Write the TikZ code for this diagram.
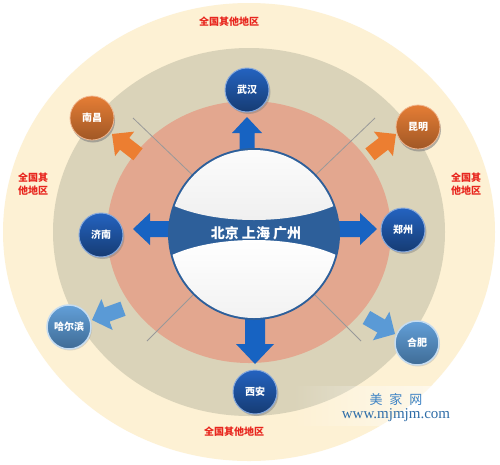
\documentclass[tikz,border=0pt]{standalone}
\usepackage{fontspec}
\setmainfont{Noto Sans CJK SC}
\newfontfamily\urlfont{Liberation Serif}
\usetikzlibrary{shadows,fadings}
\definecolor{ringY}{HTML}{FDF1D4}
\definecolor{ringT}{HTML}{DAD3B9}
\definecolor{ringP}{HTML}{E3A78F}
\definecolor{globeB}{HTML}{2D5F9A}
\definecolor{arrB}{HTML}{1763C2}
\definecolor{arrO}{HTML}{EC7E31}
\definecolor{arrL}{HTML}{5A9AD6}
\definecolor{cityB}{HTML}{2463C0}
\definecolor{cityO}{HTML}{E57D35}
\definecolor{lblR}{HTML}{E8261E}
\definecolor{wmB}{HTML}{3C82C4}
\definecolor{wmU}{HTML}{2E6DA8}
\tikzfading[name=wmfade, left color=transparent!100, right color=transparent!20]
\newcommand\blockarr[8]{% tip, angle, L, hw, hl, sw, color
  \fill[#7, shift={(#1)}, rotate=#2] (0,0) -- (-#5,#4/2) -- (-#5,#6/2) -- (-#3,#6/2)
    -- (-#3,-#6/2) -- (-#5,-#6/2) -- (-#5,-#4/2) -- cycle;}
\begin{document}
\begin{tikzpicture}[x=1pt,y=-1pt,
  city/.style={circle, minimum size=44pt, inner sep=0pt, text=white,
    font=\bfseries\fontsize{10}{10}\selectfont},
  cdark/.style={city, top color=cityB, bottom color=cityB!60!black, draw=cityB!55!white, line width=1pt,
    drop shadow={shadow xshift=1.5pt, shadow yshift=-2pt, opacity=0.45}},
  corange/.style={city, top color=cityO, bottom color=cityO!70!black,
    draw=cityO!55!white, line width=0.8pt,
    drop shadow={shadow xshift=1pt, shadow yshift=-2.5pt, opacity=0.6}},
  clight/.style={city, top color=arrL!95!white, bottom color=arrL!70!black, draw=arrL!35!white,
    line width=1.5pt, drop shadow={shadow xshift=1pt, shadow yshift=-1.5pt, opacity=0.25}},
  redlbl/.style={text=lblR, font=\bfseries\fontsize{10}{12.5}\selectfont, align=center, inner sep=0pt},
  gline/.style={draw=gray!80, line width=0.8pt}
]
\useasboundingbox (0,0) rectangle (500,464);
\fill[white] (0,0) rectangle (500,464);
\coordinate (C) at (249,232);
\fill[ringY] (C) ellipse [x radius=246, y radius=229];
\fill[ringT] (C) ellipse [x radius=196, y radius=184];
\fill[ringP] (C) ellipse [x radius=142, y radius=131];

% diagonal lines
\coordinate (G) at (254,234);
\coordinate (lnw) at (133,118);
\coordinate (lne) at (375,118);
\coordinate (lsw) at (147,341);
\coordinate (lse) at (361,341);
\draw[gline] (G) -- (lnw);
\draw[gline] (G) -- (lne);
\draw[gline] (G) -- (lsw);
\draw[gline] (G) -- (lse);

% block arrows
\blockarr{247,117}{90}{36}{30}{16}{15}{arrB}{}
\blockarr{133,229}{180}{40}{32}{17}{16}{arrB}{}
\blockarr{377,229}{0}{40}{32}{17}{16}{arrB}{}
\blockarr{255,364}{270}{50}{38}{20}{20}{arrB}{}
\blockarr{112,134}{142}{33}{31}{16}{15}{arrO}{}
\blockarr{396,134}{38}{33}{31}{16}{15}{arrO}{}
\blockarr{92,320}{200}{33}{33}{16}{15}{arrL}{}
\blockarr{395,334}{-30}{33}{33}{16}{15}{arrL}{}

% globe
\fill[globeB] (G) circle [radius=86];
\begin{scope}
  \clip (G) circle [radius=84];
  \shade[top color=white, bottom color=gray!12] (254,175) ellipse [x radius=110, y radius=45];
  \shade[top color=white, bottom color=gray!12] (254,285) ellipse [x radius=110, y radius=45];
\end{scope}
\node[text=white, font=\bfseries\fontsize{14}{14}\selectfont, inner sep=0pt] (ctext) at (256,233) {北京 上海 广州};

% cities
\node[cdark] (wuhan) at (247,90) {武汉};
\node[cdark] (jinan) at (101,235) {济南};
\node[cdark] (zhengzhou) at (403,230) {郑州};
\node[cdark] (xian) at (255,392) {西安};
\node[corange] (nanchang) at (92,118) {南昌};
\node[corange] (kunming) at (418,127) {昆明};
\node[clight] (harbin) at (69,327) {哈尔滨};
\node[clight] (hefei) at (417,343) {合肥};

% region labels
\node[redlbl] (ltop) at (229,22) {全国其他地区};
\node[redlbl] (lbot) at (234,432) {全国其他地区};
\node[redlbl] (lleft) at (33,184) {全国其\\他地区};
\node[redlbl] (lright) at (466,184) {全国其\\他地区};

% watermark
\fill[white, path fading=wmfade] (292,386) rectangle (500,426);
\node[text=wmB, font=\fontsize{13}{13}\selectfont, inner sep=0pt] (wm1) at (396,399) {美\hspace{7pt}家\hspace{7pt}网};
\node[text=wmU, font=\urlfont\fontsize{15}{15}\selectfont, inner sep=0pt] (wm2) at (396,415) {www.mjmjm.com};
\end{tikzpicture}
\end{document}
